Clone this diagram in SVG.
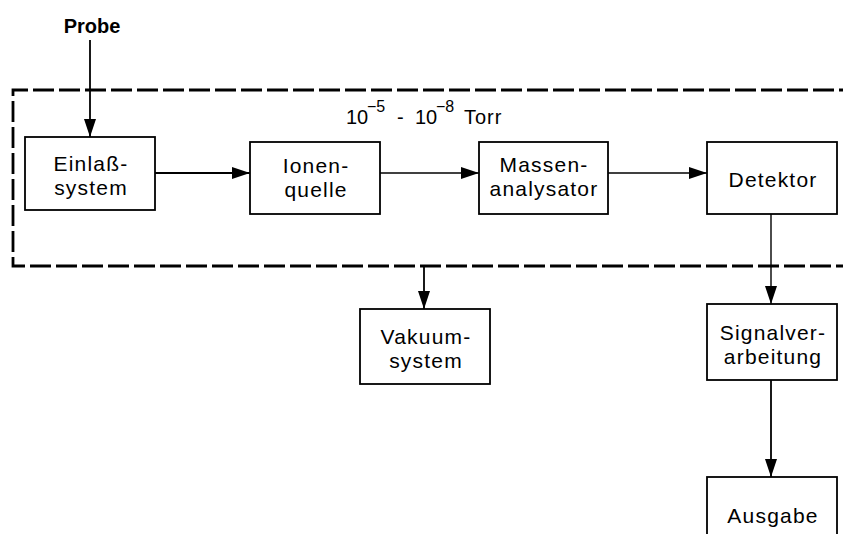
<svg xmlns="http://www.w3.org/2000/svg" width="843" height="534" viewBox="0 0 843 534">
<style>
.box{fill:#fff;stroke:#000;stroke-width:1.8}
.t{font-family:"Liberation Sans",Arial,sans-serif;font-size:21px;letter-spacing:1.2px;fill:#000;text-anchor:middle}
.p{font-family:"Liberation Sans",Arial,sans-serif;font-size:20px;fill:#000}
.sup{font-size:16px}
.c{fill:none;stroke:#000;stroke-width:1.8}
.thin{stroke-width:1.4}
.dash{fill:none;stroke:#000;stroke-width:2.8;stroke-dasharray:21 5}
</style>
<defs>
<marker id="ah" viewBox="0 0 18 12" refX="18" refY="6" markerWidth="18" markerHeight="12" markerUnits="userSpaceOnUse" orient="auto">
<path d="M0,0 L18,6 L0,12 Z" fill="#000"/>
</marker>
</defs>
<g id="vacuum-boundary">
<path class="dash" d="M860,90 H13 V266 H860"/>
<text class="p" x="346" y="124">10</text>
<text class="p sup" x="367" y="112">−5</text>
<text class="p" x="397" y="124">-</text>
<text class="p" x="415" y="124">10</text>
<text class="p sup" x="436" y="112">−8</text>
<text class="p" x="464" y="124" style="letter-spacing:1px">Torr</text>
</g>
<g id="connectors">
<line class="c" x1="90" y1="40" x2="90" y2="137" marker-end="url(#ah)"/>
<line class="c" x1="155" y1="173" x2="250" y2="173" marker-end="url(#ah)"/>
<line class="c thin" x1="380" y1="173" x2="479" y2="173" marker-end="url(#ah)"/>
<line class="c thin" x1="608" y1="173" x2="707" y2="173" marker-end="url(#ah)"/>
<line class="c thin" x1="771" y1="214" x2="771" y2="304" marker-end="url(#ah)"/>
<line class="c" x1="424" y1="266" x2="424" y2="309" marker-end="url(#ah)"/>
<line class="c" x1="771" y1="380" x2="771" y2="477" marker-end="url(#ah)"/>
</g>
<g id="probe">
<text class="t" x="92" y="33" style="font-size:20px;font-weight:bold;letter-spacing:0">Probe</text>
</g>
<g id="einlass">
<rect class="box" x="25" y="137" width="130" height="73"/>
<text class="t" x="91" y="170.5">Einlaß-</text>
<text class="t" x="91" y="194.5">system</text>
</g>
<g id="ionenquelle">
<rect class="box" x="250" y="142" width="130" height="72"/>
<text class="t" x="316" y="172.5">Ionen-</text>
<text class="t" x="316" y="196.5">quelle</text>
</g>
<g id="massenanalysator">
<rect class="box" x="479" y="142" width="129" height="72"/>
<text class="t" x="544" y="171.5">Massen-</text>
<text class="t" x="544" y="195.5">analysator</text>
</g>
<g id="detektor">
<rect class="box" x="707" y="142" width="130" height="72"/>
<text class="t" x="773" y="187">Detektor</text>
</g>
<g id="vakuumsystem">
<rect class="box" x="360" y="309" width="130" height="75"/>
<text class="t" x="426" y="344">Vakuum-</text>
<text class="t" x="426" y="368">system</text>
</g>
<g id="signalverarbeitung">
<rect class="box" x="707" y="304" width="130" height="76"/>
<text class="t" x="773" y="340">Signalver-</text>
<text class="t" x="773" y="364">arbeitung</text>
</g>
<g id="ausgabe">
<rect class="box" x="707" y="477" width="130" height="70"/>
<text class="t" x="773" y="523">Ausgabe</text>
</g>
</svg>
